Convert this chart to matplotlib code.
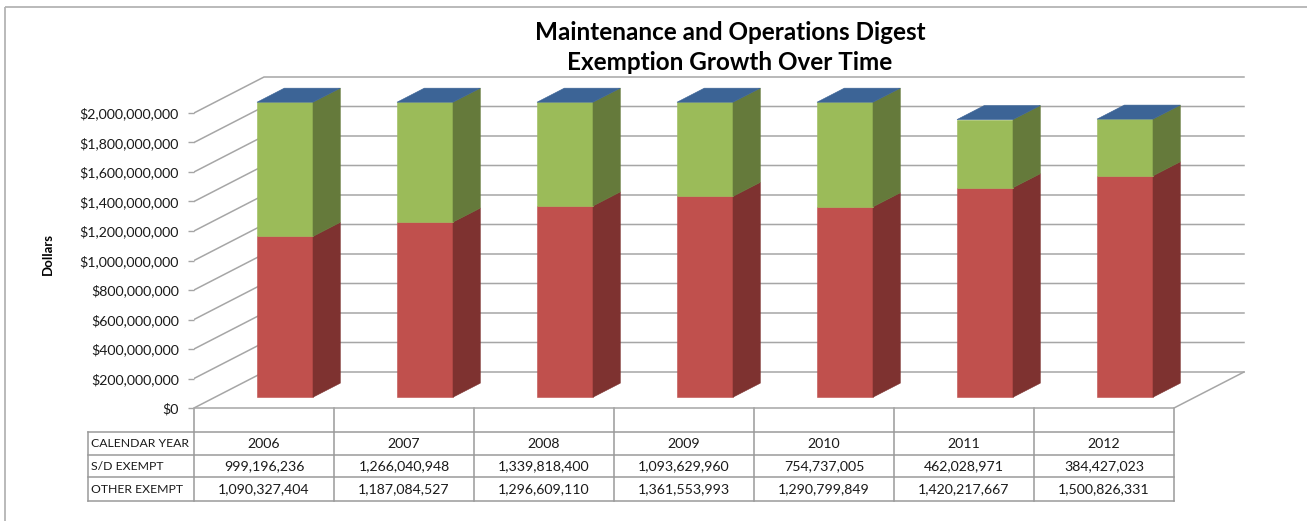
import matplotlib
matplotlib.use('Agg')
import matplotlib.pyplot as plt
from matplotlib.patches import Polygon, Rectangle
from matplotlib.ticker import FuncFormatter
from matplotlib.transforms import blended_transform_factory

plt.rcParams['font.family'] = ['Lato', 'DejaVu Sans']

# exemption totals by calendar year
years = ['2006', '2007', '2008', '2009', '2010', '2011', '2012']
sd_exempt = [999196236, 1266040948, 1339818400, 1093629960, 754737005, 462028971, 384427023]
other_exempt = [1090327404, 1187084527, 1296609110, 1361553993, 1290799849, 1420217667, 1500826331]
row_labels = ['CALENDAR YEAR', 'S/D EXEMPT', 'OTHER EXEMPT']
y_ticks = [0, 2e8, 4e8, 6e8, 8e8, 1e9, 1.2e9, 1.4e9, 1.6e9, 1.8e9, 2e9]
AXIS_MAX = 2.0e9

# layout, in figure pixels
W, H = 1307, 521
PLOT_LEFT, PLOT_RIGHT = 194, 1252
PLOT_TOP, PLOT_BOTTOM = 60, 420
ZERO_PX, MAX_PX = 408, 113
CAT_W = 140.0
DEPTH_X_PX, DEPTH_Y_PX = 70, 36
TABLE_LEFT_PX = 88
TABLE_ROWS_PX = [432, 454.5, 477, 501]

# bar look
BAR_W = 0.4
F_FRONT, F_BACK = 0.30, 0.69
RED, RED_SIDE = '#C0504D', '#7E3230'
GREEN, GREEN_SIDE = '#9BBB59', '#657A3B'
TOP_BLUE = '#3C6496'
GRID = '#A6A6A6'
TABLE_LINE = '#9A9A9A'
TEXT = '#1a1a1a'

fig = plt.figure(figsize=(W / 100, H / 100), dpi=100)

# full-figure pixel canvas for border, titles and the data table
bg = fig.add_axes([0, 0, 1, 1])
bg.set_xlim(0, W)
bg.set_ylim(H, 0)
bg.axis('off')

ax = fig.add_axes([PLOT_LEFT / W, 1 - PLOT_BOTTOM / H,
                   (PLOT_RIGHT - PLOT_LEFT) / W, (PLOT_BOTTOM - PLOT_TOP) / H])
dpp = AXIS_MAX / (ZERO_PX - MAX_PX)          # dollars per pixel
ax.set_ylim(-(PLOT_BOTTOM - ZERO_PX) * dpp, AXIS_MAX + (MAX_PX - PLOT_TOP) * dpp)
ax.set_xlim(-0.5, -0.5 + (PLOT_RIGHT - PLOT_LEFT) / CAT_W)
ax.patch.set_visible(False)
for s in ax.spines.values():
    s.set_visible(False)

n = len(years)
ddx = DEPTH_X_PX / CAT_W
ddy = DEPTH_Y_PX * dpp

# side wall + back wall gridlines
for v in y_ticks:
    ax.plot([-0.5, -0.5 + ddx, n - 0.5 + ddx], [v, v + ddy, v + ddy],
            color=GRID, lw=1.1, zorder=1, solid_joinstyle='miter')
# front and right edge of the floor
ax.plot([-0.5, n - 0.5, n - 0.5 + ddx], [0, 0, ddy], color=GRID, lw=1.1, zorder=1)

# stacked 3d-ish columns
sdx = (F_BACK - F_FRONT) * ddx
sdy = (F_BACK - F_FRONT) * ddy
oy = F_FRONT * ddy
for i in range(n):
    x0 = i - BAR_W / 2 + F_FRONT * ddx
    x1 = x0 + BAR_W
    base = 0
    for val, face, side in [(other_exempt[i], RED, RED_SIDE), (sd_exempt[i], GREEN, GREEN_SIDE)]:
        top = min(base + val, AXIS_MAX)
        ax.add_patch(Polygon([(x0, base + oy), (x1, base + oy), (x1, top + oy), (x0, top + oy)],
                             closed=True, fc=face, ec=face, lw=0.4, zorder=3))
        ax.add_patch(Polygon([(x1, base + oy), (x1 + sdx, base + oy + sdy),
                              (x1 + sdx, top + oy + sdy), (x1, top + oy)],
                             closed=True, fc=side, ec=side, lw=0.4, zorder=3))
        base = top
    ax.add_patch(Polygon([(x0, base + oy), (x1, base + oy),
                          (x1 + sdx, base + oy + sdy), (x0 + sdx, base + oy + sdy)],
                         closed=True, fc=TOP_BLUE, ec=TOP_BLUE, lw=0.4, zorder=3))

ax.set_xticks([])
ax.set_yticks(y_ticks)
ax.yaxis.set_major_formatter(FuncFormatter(lambda v, _: f'${v:,.0f}'))
ax.tick_params(axis='y', length=4, width=1, color=GRID, pad=7, labelsize=10.2,
               labelcolor=TEXT)

# data table under the categories
trans = blended_transform_factory(ax.transData, bg.transData)
t_left = -0.5 - (PLOT_LEFT - TABLE_LEFT_PX) / CAT_W
t_right = n - 0.5
for k in range(n + 1):
    bg.plot([k - 0.5, k - 0.5], [ZERO_PX, TABLE_ROWS_PX[-1]], color=TABLE_LINE,
            lw=1.1, transform=trans)
bg.plot([t_left, t_left], [TABLE_ROWS_PX[0], TABLE_ROWS_PX[-1]], color=TABLE_LINE,
        lw=1.1, transform=trans)
for yr in TABLE_ROWS_PX:
    bg.plot([t_left, t_right], [yr, yr], color=TABLE_LINE, lw=1.1, transform=trans)

rows = [years,
        [f'{v:,}' for v in sd_exempt],
        [f'{v:,}' for v in other_exempt]]
for r, (label, cells) in enumerate(zip(row_labels, rows)):
    yc = (TABLE_ROWS_PX[r] + TABLE_ROWS_PX[r + 1]) / 2 + 0.5
    bg.text(t_left + 3 / CAT_W, yc, label, transform=trans, ha='left', va='center',
            fontsize=8.8, color=TEXT)
    for i, cell in enumerate(cells):
        bg.text(i, yc, cell, transform=trans, ha='center', va='center',
                fontsize=10.2, color=TEXT)

# titles and outer frame
bg.text(730, 33, 'Maintenance and Operations Digest', ha='center', va='center',
        fontsize=17.5, fontweight='bold')
bg.text(730, 63, 'Exemption Growth Over Time', ha='center', va='center',
        fontsize=17.5, fontweight='bold')
bg.text(48, 254, 'Dollars', rotation=90, ha='center', va='center',
        fontsize=9.5, fontweight='bold')
bg.add_patch(Rectangle((5, 7), W + 50, H + 50, fill=False, ec='#B4B4B4', lw=1.3))

fig.savefig('out.png', dpi=100)
